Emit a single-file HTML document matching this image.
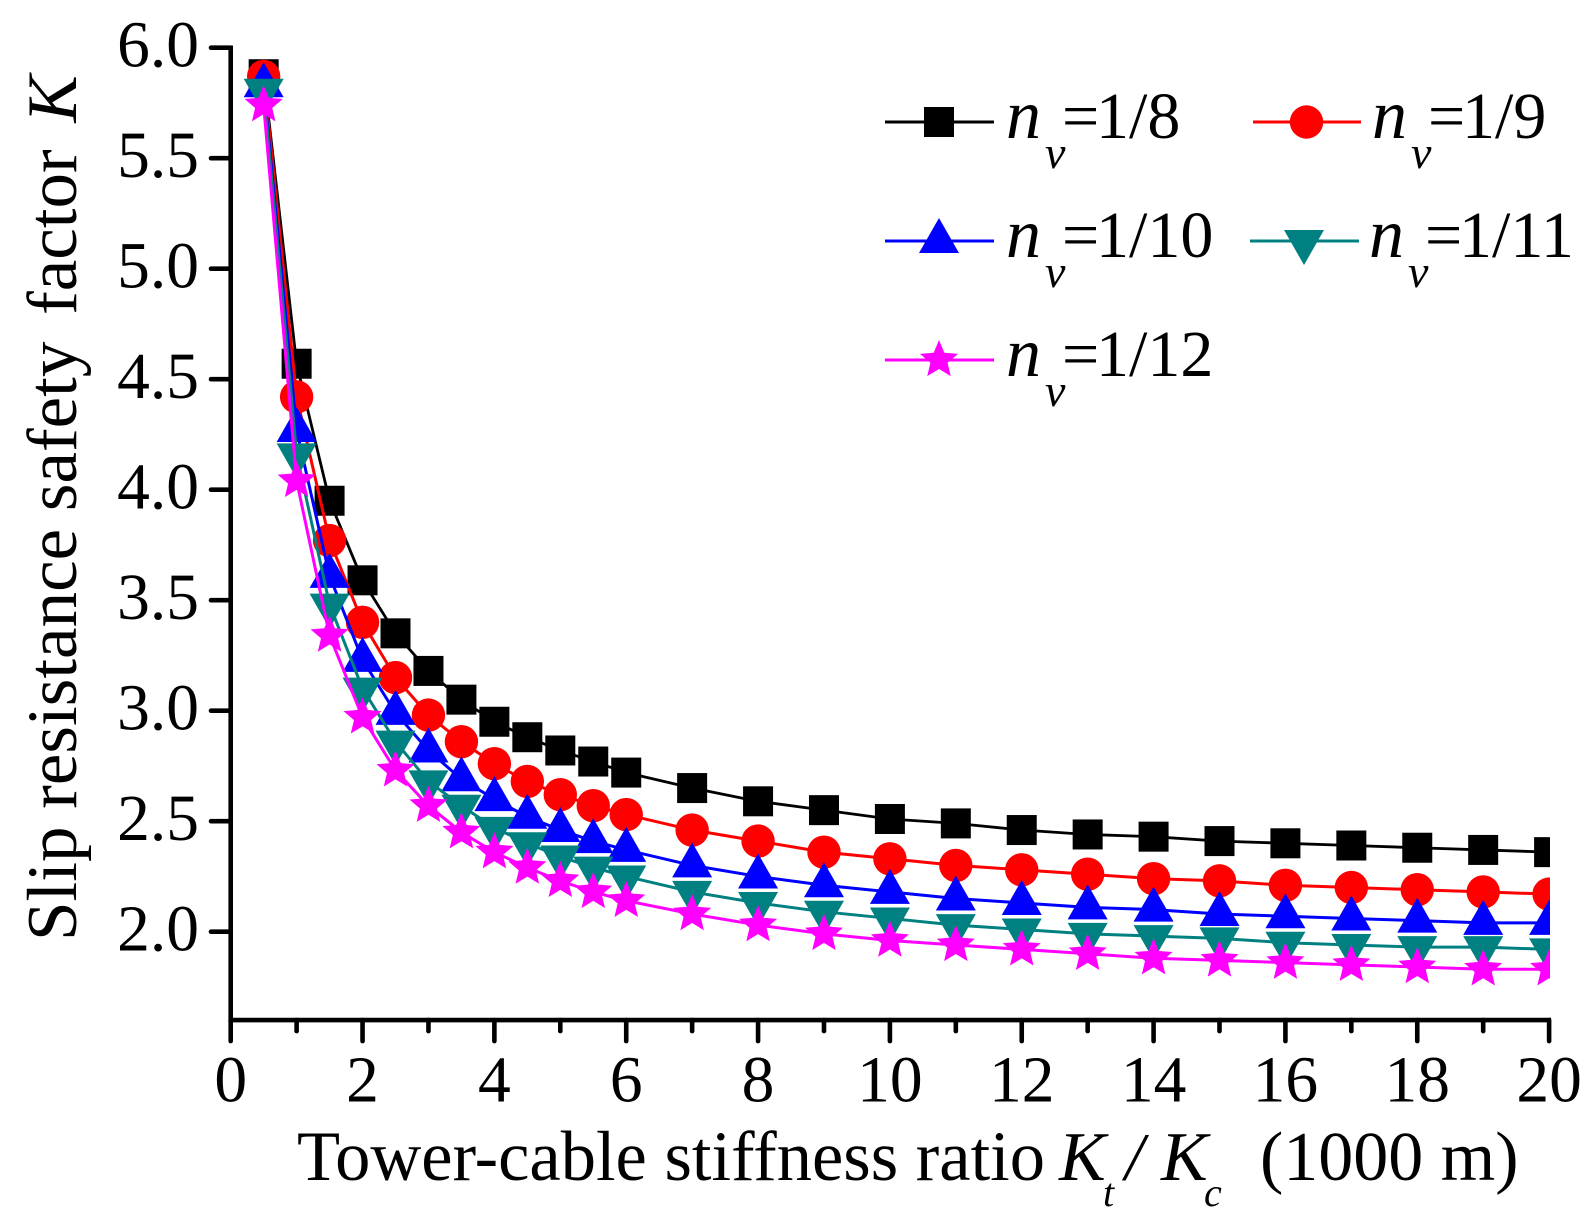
<!DOCTYPE html>
<html>
<head>
<meta charset="utf-8">
<title>Slip resistance safety factor chart</title>
<style>
html,body{margin:0;padding:0;background:#fff;}
svg{display:block;}
text{font-family:"Liberation Serif",serif;fill:#000;}
.it{font-style:italic;}
</style>
</head>
<body>
<svg id="chart" width="1595" height="1225" viewBox="0 0 1595 1225" xmlns="http://www.w3.org/2000/svg">
  <defs><clipPath id="plot-clip"><rect x="0" y="0" width="1550" height="1020"></rect></clipPath></defs>
  <rect width="1595" height="1225" fill="#fff"></rect>
  <g id="series-layer" clip-path="url(#plot-clip)"></g>
  <g id="axes-layer"></g>

  <g transform="translate(76,941) rotate(-90)">
    <text font-size="71" x="0" y="0">Slip resistance safety <tspan dx="9">factor </tspan><tspan class="it" dx="9">K</tspan></text>
  </g>
  <g>
    <text font-size="70.5" x="297" y="1180">Tower-cable stiffness ratio</text>
    <text class="it" font-size="70" x="1059" y="1180">K</text>
    <text class="it" font-size="40" x="1103" y="1206">t</text>
    <text class="it" font-size="68" x="1125" y="1180">/</text>
    <text class="it" font-size="70" x="1161" y="1180">K</text>
    <text class="it" font-size="40" x="1204" y="1206">c</text>
    <text font-size="70" x="1260" y="1180">(1000 m)</text>
  </g>

  <g>
    <g id="legend-0">
      <line x1="885" x2="994" y1="122" y2="122" stroke="#000" stroke-width="3"></line>
      <text class="it" font-size="70" x="1006" y="138">n</text>
      <text class="it" font-size="46" x="1045" y="168">v</text>
      <text font-size="66" x="1062" y="138">=</text>
      <text font-size="66" x="1096" y="138">1/8</text>
    </g>
    <g id="legend-1">
      <line x1="1253" x2="1361" y1="122" y2="122" stroke="#f00" stroke-width="3"></line>
      <text class="it" font-size="70" x="1372" y="138">n</text>
      <text class="it" font-size="46" x="1411" y="168">v</text>
      <text font-size="66" x="1428" y="138">=</text>
      <text font-size="66" x="1462" y="138">1/9</text>
    </g>
    <g id="legend-2">
      <line x1="885" x2="994" y1="241" y2="241" stroke="#00f" stroke-width="3"></line>
      <text class="it" font-size="70" x="1006" y="257">n</text>
      <text class="it" font-size="46" x="1045" y="287">v</text>
      <text font-size="66" x="1062" y="257">=</text>
      <text font-size="66" x="1096" y="257">1/10</text>
    </g>
    <g id="legend-3">
      <line x1="1250" x2="1359" y1="241" y2="241" stroke="#008080" stroke-width="3"></line>
      <text class="it" font-size="70" x="1369" y="257">n</text>
      <text class="it" font-size="46" x="1408" y="287">v</text>
      <text font-size="66" x="1425" y="257">=</text>
      <text font-size="66" x="1459" y="257">1/11</text>
    </g>
    <g id="legend-4">
      <line x1="885" x2="994" y1="360" y2="360" stroke="#f0f" stroke-width="3"></line>
      <text class="it" font-size="70" x="1006" y="376">n</text>
      <text class="it" font-size="46" x="1045" y="406">v</text>
      <text font-size="66" x="1062" y="376">=</text>
      <text font-size="66" x="1096" y="376">1/12</text>
    </g>
  </g>
</svg>
<script>
// Chart data
const categories = [0.5,1,1.5,2,2.5,3,3.5,4,4.5,5,5.5,6,7,8,9,10,11,12,13,14,15,16,17,18,19,20];
const seriesBlack = [5.88,4.57,3.95,3.59,3.35,3.18,3.05,2.95,2.88,2.82,2.77,2.72,2.65,2.59,2.55,2.51,2.49,2.46,2.44,2.43,2.41,2.40,2.39,2.38,2.37,2.36];
const seriesRed = [5.87,4.42,3.77,3.40,3.15,2.98,2.86,2.76,2.68,2.62,2.57,2.53,2.46,2.41,2.36,2.33,2.30,2.28,2.26,2.24,2.23,2.21,2.20,2.19,2.18,2.17];
const seriesBlue = [5.83,4.27,3.61,3.23,2.99,2.82,2.69,2.60,2.52,2.46,2.41,2.37,2.30,2.25,2.21,2.18,2.15,2.13,2.11,2.10,2.08,2.07,2.06,2.05,2.04,2.04];
const seriesTeal = [5.81,4.16,3.48,3.10,2.86,2.68,2.57,2.47,2.40,2.34,2.29,2.25,2.18,2.13,2.09,2.06,2.03,2.01,1.99,1.98,1.97,1.95,1.94,1.93,1.93,1.92];
const seriesMagenta = [5.74,4.04,3.34,2.97,2.73,2.57,2.45,2.36,2.29,2.23,2.18,2.14,2.08,2.03,1.99,1.96,1.94,1.92,1.90,1.88,1.87,1.86,1.85,1.84,1.83,1.83];
const xMajorTicks = [0,2,4,6,8,10,12,14,16,18,20];
const xMinorTicks = [1,3,5,7,9,11,13,15,17,19];
const yTickLabels = ["6.0","5.5","5.0","4.5","4.0","3.5","3.0","2.5","2.0"];

const xPos = v => 230.7 + v * 65.92;
const yPos = v => 47.7 + (6 - v) * 221;
const NS = 'http://www.w3.org/2000/svg';

function make(tag, attrs, parent) {
  const el = document.createElementNS(NS, tag);
  for (const k in attrs) el.setAttribute(k, attrs[k]);
  parent.appendChild(el);
  return el;
}

function markerShape(kind, cx, cy, color, parent) {
  if (kind === 'square') {
    return make('rect', {x: cx - 15, y: cy - 15, width: 30, height: 30, fill: color}, parent);
  }
  if (kind === 'circle') {
    return make('circle', {cx: cx, cy: cy, r: 16.7, fill: color}, parent);
  }
  if (kind === 'up') {
    return make('polygon', {points: `${cx},${cy - 23} ${cx + 20},${cy + 12} ${cx - 20},${cy + 12}`, fill: color}, parent);
  }
  if (kind === 'down') {
    return make('polygon', {points: `${cx - 20},${cy - 11} ${cx + 20},${cy - 11} ${cx},${cy + 24}`, fill: color}, parent);
  }
  const pts = [];
  for (let i = 0; i < 10; i++) {
    const r = i % 2 ? 9 : 20;
    const a = -Math.PI / 2 + i * Math.PI / 5;
    pts.push((cx + r * Math.cos(a)).toFixed(2) + ',' + (cy + r * Math.sin(a)).toFixed(2));
  }
  return make('polygon', {points: pts.join(' '), fill: color}, parent);
}

const seriesList = [
  {key: '1-8', values: seriesBlack, color: '#000', kind: 'square', width: 2.8},
  {key: '1-9', values: seriesRed, color: '#f00', kind: 'circle', width: 3},
  {key: '1-10', values: seriesBlue, color: '#00f', kind: 'up', width: 3},
  {key: '1-11', values: seriesTeal, color: '#008080', kind: 'down', width: 3},
  {key: '1-12', values: seriesMagenta, color: '#f0f', kind: 'star', width: 3}
];

const seriesLayer = document.getElementById('series-layer');
seriesList.forEach((s, si) => {
  const group = make('g', {}, seriesLayer);
  
  
  const line = make('polyline', {
    points: categories.map((c, i) => xPos(c) + ',' + yPos(s.values[i])).join(' '),
    fill: 'none', stroke: s.color, 'stroke-width': s.width
  }, group);
  
  
  categories.forEach((c, i) => {
    const m = markerShape(s.kind, xPos(c), yPos(s.values[i]), s.color, group);
    
    
  });
  const legendMarker = markerShape(s.kind, [939, 1306.5, 939, 1304, 939][si], [122, 122, 241, 241, 360][si], s.color, document.getElementById('legend-' + si));
  
  
});

const axes = document.getElementById('axes-layer');
const xSpine = make('line', {x1: 228.5, x2: 1551, y1: yPos(1.6), y2: yPos(1.6), stroke: '#000', 'stroke-width': 4.6}, axes);


const ySpine = make('line', {x1: 230.7, x2: 230.7, y1: 45.5, y2: yPos(1.6) + 2, stroke: '#000', 'stroke-width': 4.6}, axes);



xMajorTicks.forEach(v => {
  const t = make('line', {x1: xPos(v), x2: xPos(v), y1: yPos(1.6), y2: yPos(1.6) + 21, stroke: '#000', 'stroke-width': 4.6, 'stroke-linecap': 'round'}, axes);
  
  
  const l = make('text', {x: xPos(v), y: 1101.5, 'font-size': 65.5, 'text-anchor': 'middle'}, axes);
  l.textContent = String(v);
  
  
});
xMinorTicks.forEach(v => {
  const t = make('line', {x1: xPos(v), x2: xPos(v), y1: yPos(1.6), y2: yPos(1.6) + 11, stroke: '#000', 'stroke-width': 4.6, 'stroke-linecap': 'round'}, axes);
  
  
});
yTickLabels.forEach(label => {
  const v = parseFloat(label);
  const t = make('line', {x1: 211, x2: 230.7, y1: yPos(v), y2: yPos(v), stroke: '#000', 'stroke-width': 4.6, 'stroke-linecap': 'round'}, axes);
  
  
  const l = make('text', {x: 199, y: yPos(v) + 19, 'font-size': 65.5, 'text-anchor': 'end'}, axes);
  l.textContent = label;
  
  
});
</script>
</body>
</html>
